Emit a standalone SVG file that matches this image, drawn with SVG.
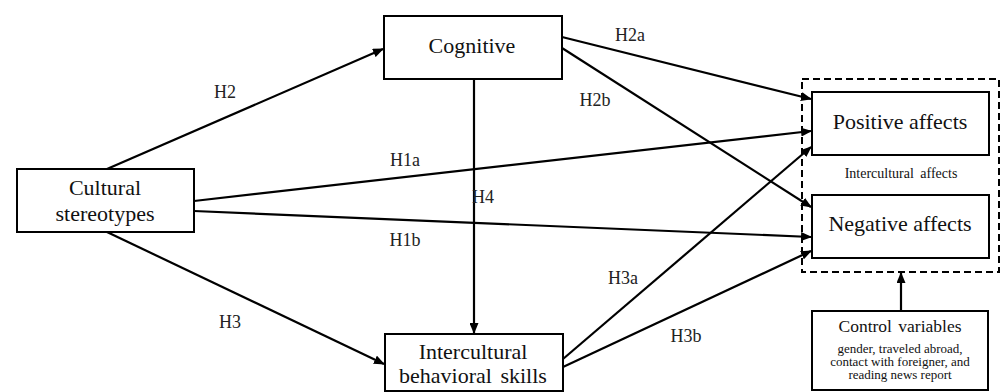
<svg xmlns="http://www.w3.org/2000/svg" width="1002" height="392" viewBox="0 0 1002 392">
<style>
.box{fill:#fff;stroke:#000;stroke-width:2}
.dash{fill:none;stroke:#000;stroke-width:2;stroke-dasharray:7,4}
.ln{stroke:#000;stroke-width:2.2;fill:none;marker-end:url(#ah)}
text{font-family:"Liberation Serif","Times New Roman",serif;fill:#111;text-anchor:middle}
.t{font-size:22px}
.h{font-size:18px;fill:#222}
.s{font-size:13px}
.m{font-size:14px}
.c{font-size:17.5px}
</style>
<defs>
<marker id="ah" markerUnits="userSpaceOnUse" markerWidth="11" markerHeight="9" refX="10" refY="4.5" orient="auto">
<path d="M0,0 L11,4.5 L0,9 z" fill="#000"/>
</marker>
</defs>
<g id="connectors">
<line class="ln" x1="107" y1="169" x2="383" y2="49"/>
<line class="ln" x1="107" y1="232" x2="384" y2="364"/>
<line class="ln" x1="194" y1="201" x2="811" y2="131"/>
<line class="ln" x1="194" y1="211" x2="811" y2="237"/>
<line class="ln" x1="562" y1="37" x2="811" y2="99"/>
<line class="ln" x1="562" y1="48" x2="811" y2="207"/>
<line class="ln" x1="474" y1="79" x2="474" y2="333"/>
<line class="ln" x1="563" y1="359" x2="811" y2="147"/>
<line class="ln" x1="563" y1="367" x2="811" y2="251"/>
<line class="ln" x1="901" y1="311" x2="901" y2="273"/>
</g>
<g id="labels">
<text class="h" x="225" y="98">H2</text>
<text class="h" x="630" y="41">H2a</text>
<text class="h" x="595" y="106">H2b</text>
<text class="h" x="405" y="166">H1a</text>
<text class="h" x="483" y="203">H4</text>
<text class="h" x="405" y="246">H1b</text>
<text class="h" x="623" y="284">H3a</text>
<text class="h" x="686" y="342">H3b</text>
<text class="h" x="230" y="328">H3</text>
</g>
<g id="cultural">
<rect class="box" x="17" y="169" width="177" height="63"/>
<text class="t" x="105" y="195">Cultural</text>
<text class="t" x="105" y="221">stereotypes</text>
</g>
<g id="cognitive">
<rect class="box" x="384" y="16" width="178" height="63"/>
<text class="t" x="472" y="53">Cognitive</text>
</g>
<g id="behavioral">
<rect class="box" x="385" y="334" width="178" height="57"/>
<text class="t" x="473" y="359">Intercultural</text>
<text class="t" x="473" y="383" word-spacing="3">behavioral skills</text>
</g>
<g id="affects">
<rect class="dash" x="802" y="79" width="197" height="193"/>
<text class="m" x="901" y="178" word-spacing="3">Intercultural affects</text>
</g>
<g id="positive">
<rect class="box" x="812" y="92" width="177" height="63"/>
<text class="t" x="900" y="129">Positive affects</text>
</g>
<g id="negative">
<rect class="box" x="812" y="195" width="177" height="63"/>
<text class="t" x="900" y="231">Negative affects</text>
</g>
<g id="control">
<rect class="box" x="812" y="311" width="176" height="79"/>
<text class="c" x="900" y="332" word-spacing="2">Control variables</text>
<text class="s" x="900" y="353">gender, traveled abroad,</text>
<text class="s" x="900" y="366">contact with foreigner, and</text>
<text class="s" x="900" y="379">reading news report</text>
</g>
</svg>
